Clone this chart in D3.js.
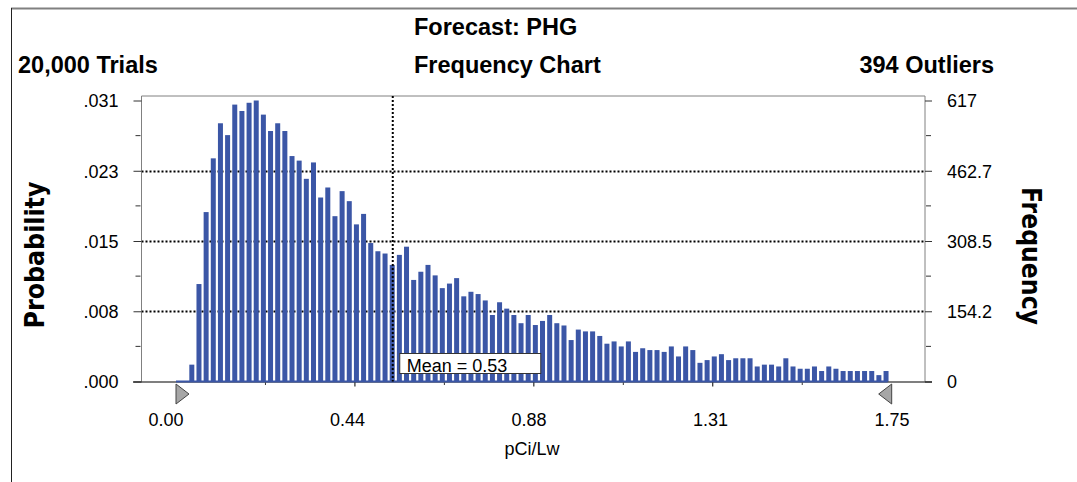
<!DOCTYPE html>
<html>
<head>
<meta charset="utf-8">
<script src="https://cdn.jsdelivr.net/npm/d3@7"></script>
<style>
    body { margin: 0; background: #fff; }
    svg { display: block; }
</style>
</head>
<body>
<div id="chart"></div>
<script>
// Forecast summary
const forecastName = "PHG";
const trials = 20000;
const outliers = 394;
const meanValue = 0.53;
const unitLabel = "pCi/Lw";

// 100 bins of width 0.0175 from 0.00 to 1.75, count of trials in each bin
const binWidth = 0.0175;
const binCounts = [
    0, 0, 37, 214, 372, 490, 567, 541, 608, 594,
    612, 617, 586, 550, 567, 550, 495, 485, 445, 481,
    404, 426, 363, 418, 396, 345, 368, 304, 286, 281,
    256, 278, 296, 223, 241, 256, 233, 205, 215, 227,
    187, 197, 192, 178, 146, 174, 160, 146, 128, 146,
    124, 133, 146, 128, 123, 91, 114, 110, 110, 100,
    83, 88, 77, 88, 65, 73, 69, 69, 65, 77,
    55, 77, 69, 41, 47, 55, 60, 47, 51, 51,
    51, 33, 37, 37, 33, 51, 33, 28, 28, 33,
    23, 33, 28, 23, 23, 23, 23, 23, 14, 23
];

// Axis ticks
const freqTicks = [0, 154.2, 308.5, 462.7, 617];
const freqTickLabels = ["0", "154.2", "308.5", "462.7", "617"];
const probTickLabels = [".000", ".008", ".015", ".023", ".031"];
const xTickValues = [0, 0.4375, 0.875, 1.3125, 1.75];
const xTickLabels = ["0.00", "0.44", "0.88", "1.31", "1.75"];

const width = 1077;
const height = 482;
const font = "'Liberation Sans', Arial, sans-serif";
const barColor = "#3b56a6";

const svg = d3.select("#chart")
    .append("svg")
    .attr("width", width)
    .attr("height", height)
    .style("font-family", font);

// Plot area
const plotLeft = 141.5, plotRight = 925, plotTop = 96, plotBottom = 381.5;

const x = d3.scaleLinear().domain([0, 1.75]).range([176, 891.7]);
// tick labels sit a little left of their ticks in the original
const xLabel = d3.scaleLinear().domain([0, 1.75]).range([166, 892]);
const y = d3.scaleLinear().domain([0, 617]).range([plotBottom, 100.5]);

// Outer border
svg.append("line")
    .attr("x1", 11).attr("x2", width).attr("y1", 8.5).attr("y2", 8.5)
    .attr("stroke", "#808080").attr("stroke-width", 2);
svg.append("line")
    .attr("x1", 11.5).attr("x2", 11.5).attr("y1", 8).attr("y2", height)
    .attr("stroke", "#222").attr("stroke-width", 1);

// Titles
svg.append("text")
    .attr("x", 414).attr("y", 35)
    .attr("font-size", 23.5).attr("font-weight", "bold")
    .text("Forecast: " + forecastName);

const subTitles = svg.append("g")
    .attr("font-size", 23.5)
    .attr("font-weight", "bold");
subTitles.append("text").attr("x", 18).attr("y", 73)
    .text(d3.format(",")(trials) + " Trials");
subTitles.append("text").attr("x", 414).attr("y", 73)
    .text("Frequency Chart");
subTitles.append("text").attr("x", 994).attr("y", 73)
    .attr("text-anchor", "end")
    .text(outliers + " Outliers");

// Dotted gridlines (under the bars)
svg.append("g")
    .selectAll("line")
    .data(freqTicks.slice(1, -1))
    .enter()
    .append("line")
    .attr("x1", plotLeft).attr("x2", plotRight)
    .attr("y1", d => Math.round(y(d)) + 0.5)
    .attr("y2", d => Math.round(y(d)) + 0.5)
    .attr("stroke", "#000")
    .attr("stroke-width", 2)
    .attr("stroke-dasharray", "2,2");

// Bars
svg.append("g")
    .selectAll("rect")
    .data(binCounts.map((count, i) => ({ start: i * binWidth, count: count })).filter(d => d.count > 0))
    .enter()
    .append("rect")
    .attr("x", d => x(d.start) - 1)
    .attr("width", 5)
    .attr("y", d => y(d.count))
    .attr("height", d => plotBottom - y(d.count))
    .attr("fill", barColor);

// Plot frame
svg.append("path")
    .attr("d", `M${plotLeft},${plotBottom}V${plotTop}H${plotRight}V${plotBottom}`)
    .attr("fill", "none")
    .attr("stroke", "#808080")
    .attr("stroke-width", 1);

// Left axis: probability
const leftAxis = svg.append("g")
    .attr("transform", `translate(${plotLeft},0)`)
    .call(d3.axisLeft(y)
        .tickValues(freqTicks)
        .tickSize(8)
        .tickPadding(15)
        .tickFormat((d, i) => probTickLabels[i]))
    .call(g => g.select(".domain").remove());
leftAxis.attr("font-size", 18).attr("font-family", font);
leftAxis.selectAll("text").attr("dy", "0.36em").attr("fill", "#000");
leftAxis.selectAll("line").attr("stroke", "#333");

// Right axis: frequency
const rightAxis = svg.append("g")
    .attr("transform", `translate(${plotRight},0)`)
    .call(d3.axisRight(y)
        .tickValues(freqTicks)
        .tickSize(7)
        .tickPadding(15)
        .tickFormat((d, i) => freqTickLabels[i]))
    .call(g => g.select(".domain").remove());
rightAxis.attr("font-size", 18).attr("font-family", font);
rightAxis.selectAll("text").attr("dy", "0.36em").attr("fill", "#000");
rightAxis.selectAll("line").attr("stroke", "#333");

// Minor ticks half way between the major ones
const minorFreq = d3.pairs(freqTicks).map(p => (p[0] + p[1]) / 2);
svg.append("g")
    .selectAll("line")
    .data(minorFreq)
    .enter()
    .append("line")
    .attr("x1", plotLeft - 6).attr("x2", plotLeft - 1)
    .attr("y1", d => y(d)).attr("y2", d => y(d))
    .attr("stroke", "#333");
svg.append("g")
    .selectAll("line")
    .data(minorFreq)
    .enter()
    .append("line")
    .attr("x1", plotRight + 1).attr("x2", plotRight + 6)
    .attr("y1", d => y(d)).attr("y2", d => y(d))
    .attr("stroke", "#333");

// Baseline: black axis line with a blue bar baseline on top
svg.append("line")
    .attr("x1", 133).attr("x2", 932)
    .attr("y1", plotBottom + 0.5).attr("y2", plotBottom + 0.5)
    .attr("stroke", "#000").attr("stroke-width", 1.2);
svg.append("line")
    .attr("x1", x(0)).attr("x2", x(binCounts.length * binWidth) - 4)
    .attr("y1", plotBottom).attr("y2", plotBottom)
    .attr("stroke", barColor).attr("stroke-width", 2);

// X ticks: majors every 0.4375, minors in between
const xMinor = d3.range(1, 8, 2).map(i => i * 0.21875);
svg.append("g")
    .selectAll("line")
    .data(xTickValues.slice(1, -1))
    .enter()
    .append("line")
    .attr("x1", d => x(d)).attr("x2", d => x(d))
    .attr("y1", plotBottom + 1).attr("y2", plotBottom + 5)
    .attr("stroke", "#000");
svg.append("g")
    .selectAll("line")
    .data(xMinor)
    .enter()
    .append("line")
    .attr("x1", d => x(d)).attr("x2", d => x(d))
    .attr("y1", plotBottom + 1).attr("y2", plotBottom + 3.5)
    .attr("stroke", "#333");

svg.append("g")
    .attr("font-size", 18)
    .attr("text-anchor", "middle")
    .selectAll("text")
    .data(xTickValues)
    .enter()
    .append("text")
    .attr("x", d => xLabel(d))
    .attr("y", 425.5)
    .text((d, i) => xTickLabels[i]);

// Range markers (grab handles) at both ends
svg.append("path")
    .attr("d", `M${x(0)},384V404L${x(0) + 13},394Z`)
    .attr("fill", "#a6a6a6").attr("stroke", "#444");
svg.append("path")
    .attr("d", `M${x(1.75)},384V404L${x(1.75) - 13},394Z`)
    .attr("fill", "#a6a6a6").attr("stroke", "#444");

// Mean line and label
const mx = x(meanValue);
svg.append("line")
    .attr("x1", mx).attr("x2", mx)
    .attr("y1", plotTop).attr("y2", plotBottom)
    .attr("stroke", "#000")
    .attr("stroke-width", 2)
    .attr("stroke-dasharray", "2,2");
svg.append("rect")
    .attr("x", mx + 7).attr("y", 353.5)
    .attr("width", 141).attr("height", 20)
    .attr("fill", "#fff").attr("stroke", "#333");
svg.append("text")
    .attr("x", mx + 14).attr("y", 372)
    .attr("font-size", 18)
    .text("Mean = " + meanValue.toFixed(2));

// Axis titles
svg.append("text")
    .attr("x", 532).attr("y", 455)
    .attr("font-size", 18)
    .attr("text-anchor", "middle")
    .text(unitLabel);

svg.append("text")
    .attr("transform", "translate(44,255) rotate(-90)")
    .attr("text-anchor", "middle")
    .attr("font-family", "'DejaVu Sans', sans-serif")
    .attr("font-weight", "bold")
    .attr("font-size", 27)
    .attr("textLength", 147)
    .attr("lengthAdjust", "spacingAndGlyphs")
    .text("Probability");

svg.append("text")
    .attr("transform", "translate(1022,256) rotate(90)")
    .attr("text-anchor", "middle")
    .attr("font-family", "'DejaVu Sans', sans-serif")
    .attr("font-weight", "bold")
    .attr("font-size", 27)
    .attr("textLength", 138)
    .attr("lengthAdjust", "spacingAndGlyphs")
    .text("Frequency");
</script>
</body>
</html>
